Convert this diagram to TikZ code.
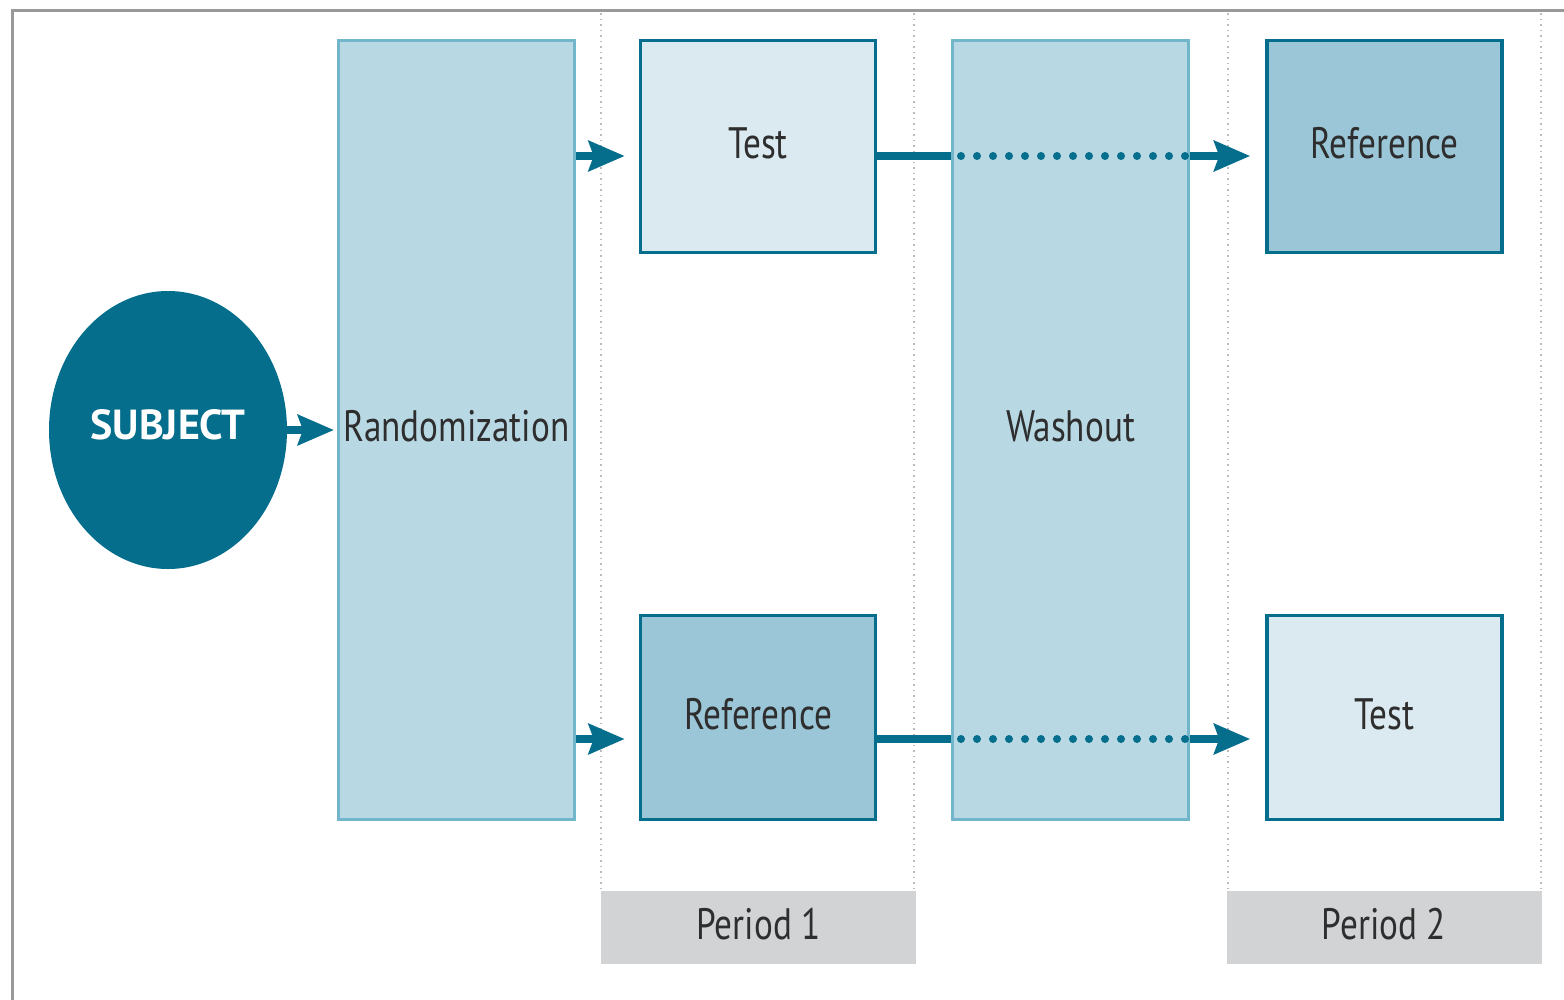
\documentclass[tikz,border=0pt]{standalone}
\usepackage{fontspec}
\setmainfont{PT Sans}[FakeStretch=0.8]
\newfontfamily\headfont{PT Sans}[FakeStretch=1.0]
\usetikzlibrary{arrows.meta,shapes.geometric}

\definecolor{teal}{HTML}{046E8C}
\definecolor{paneblue}{HTML}{B8D8E4}
\definecolor{paneedge}{HTML}{72B6CB}
\definecolor{lightbox}{HTML}{DBE9F0}
\definecolor{midbox}{HTML}{9AC6D7}
\definecolor{labelgray}{HTML}{D2D3D5}
\definecolor{textgray}{HTML}{2E2E2E}
\definecolor{framegray}{HTML}{999999}
\definecolor{sepgray}{HTML}{BBBBBB}

\tikzset{
  lbl/.style={font=\fontsize{44}{48}\selectfont, text=textgray,
              text height=31pt, text depth=8pt},
  pane/.style={draw=paneedge, fill=paneblue, line width=3pt, inner sep=0pt,
               minimum width=236pt, minimum height=779pt, lbl},
  armbox/.style={draw=teal, line width=3.5pt, inner sep=0pt,
                 minimum width=235pt, lbl},
  testbox/.style={armbox, fill=lightbox},
  refbox/.style={armbox, fill=midbox},
  periodbox/.style={fill=labelgray, inner sep=0pt, minimum width=315pt,
                    minimum height=73pt, lbl},
  arr/.style={draw=teal, line width=8pt,
              -{Stealth[length=36pt,width=30pt,inset=5pt]}},
  link/.style={draw=teal, line width=8pt},
  dotlink/.style={draw=teal, line width=8pt, line cap=round,
                  dash pattern=on 0pt off 16pt},
  sep/.style={draw=sepgray, line width=1.5pt, dash pattern=on 1.5pt off 4pt},
}

\begin{document}
\begin{tikzpicture}[x=1pt, y=-1pt]
  \useasboundingbox (0,0) rectangle (1564,999);
  \fill[white] (0,0) rectangle (1564,999);

  % outer frame, running off the right and bottom edges
  \draw[framegray, line width=3pt] (12,1020) -- (12,10) -- (1580,10);

  % period separators
  \foreach \x in {601,914,1228,1541}
    \draw[sep] (\x,13) -- (\x,890);

  % period labels
  \node[periodbox] (p1) at (758.5,927.5) {Period 1};
  \node[periodbox] (p2) at (1384,927.5) {Period 2};

  % randomization and washout panes
  \node[pane] (rand) at (456.5,430) {Randomization};
  \node[pane] (wash) at (1070.5,430) {Washout};

  % treatment boxes
  \node[testbox, minimum height=212pt] (t1) at (758,146.5) {Test};
  \node[refbox,  minimum height=212pt] (r2) at (1384.5,146.5) {Reference};
  \node[refbox,  minimum height=204pt] (r1) at (758,717.5) {Reference};
  \node[testbox, minimum height=204pt] (t2) at (1384.5,717.5) {Test};

  % subject
  \node[ellipse, fill=teal, inner sep=0pt, minimum width=238pt,
        minimum height=278pt, text=white,
        font=\headfont\bfseries\fontsize{42}{46}\selectfont] (subj) at (168,430)
        {\raisebox{11pt}{SUBJECT}};

  % rows of the two sequences
  \coordinate (rowA) at (0,156);
  \coordinate (rowB) at (0,739);

  % connectors
  \draw[arr, shorten >=3pt] (subj.east) -- (rand.west);

  \draw[arr, shorten >=14pt] (rand.east |- rowA) -- (t1.west |- rowA);
  \draw[arr, shorten >=14pt] (rand.east |- rowB) -- (r1.west |- rowB);

  \draw[link] (t1.east |- rowA) -- (wash.west |- rowA);
  \draw[dotlink] ([xshift=10pt]wash.west |- rowA) -- ([xshift=-4pt]wash.east |- rowA);
  \draw[arr, shorten >=15pt] (wash.east |- rowA) -- (r2.west |- rowA);

  \draw[link] (r1.east |- rowB) -- (wash.west |- rowB);
  \draw[dotlink] ([xshift=10pt]wash.west |- rowB) -- ([xshift=-4pt]wash.east |- rowB);
  \draw[arr, shorten >=15pt] (wash.east |- rowB) -- (t2.west |- rowB);
\end{tikzpicture}
\end{document}
